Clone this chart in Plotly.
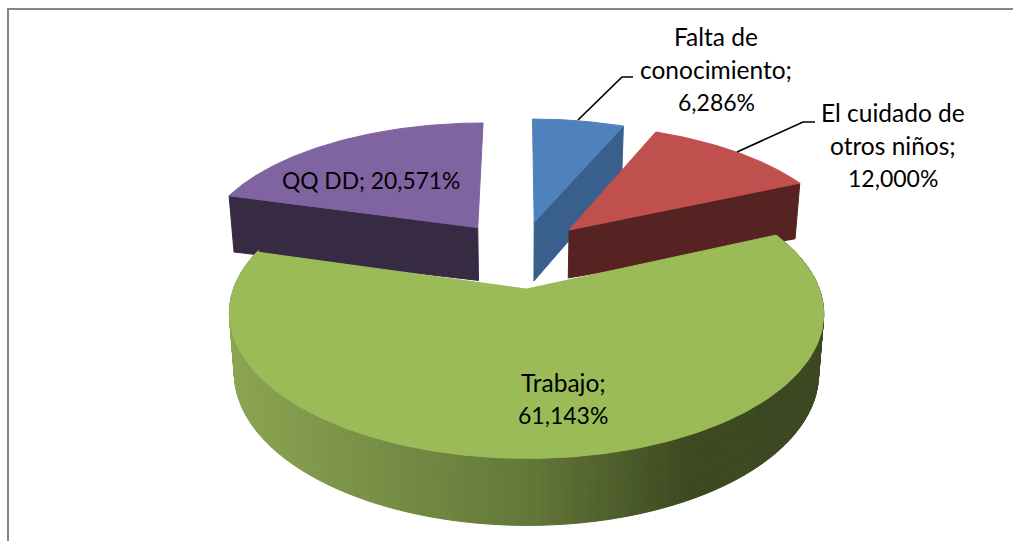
import numpy as np
import plotly.graph_objects as go

categories = ["Falta de conocimiento", "El cuidado de otros niños", "Trabajo", "QQ DD"]
values = [6.286, 12.000, 61.143, 20.571]
top_colors = ["#4f81bd", "#c0504d", "#9bbb59", "#8064a2"]
side_colors = ["#39608c", "#572222", "#64783a", "#372a43"]
explode = [0.24, 0.24, 0.28, 0.24]
nudge_x = [1.5, 3.5, 0.5, -3.0]
h_apex = [57, 46, 54, 51]
h_rim = [0, 10, 0, 5]
label_lines = [["Falta de", "conocimiento;", "6,286%"],
               ["El cuidado de", "otros niños;", "12,000%"],
               ["Trabajo;", "61,143%"],
               ["QQ DD; 20,571%"]]
label_sizes = [[24.5, 24.5, 23], [24.5, 24.5, 23], [24.5, 23], [22.8]]
label_x = [716, 893, 563, 371]
label_y = [36, 112, 382, 180]
leader_x = [[578, 622, 633], [737, 803, 815]]
leader_y = [[120, 77, 77], [152, 122, 122]]
LINE_GAP = 33

CX, CY, A, B, K = 520.0, 251.5, 279.8, 128.5, 0.1606
BOTTOM_SCALE = 0.983


def project(X, Y):
    w = 1 - K * Y
    return CX + A * X / w, CY + B * Y / w


def thick(sy, r, i):
    return h_apex[i] + h_rim[i] * r + 0.0485 * (sy - 190)


def point(theta, r, i, mid):
    m = np.radians(mid)
    X = explode[i] * np.sin(m) + r * np.sin(theta)
    Y = -explode[i] * np.cos(m) - r * np.cos(theta)
    sx, sy = project(X, Y)
    return sx + nudge_x[i], sy


def bottom(sx, sy, r, i):
    return CX + (sx - CX) * BOTTOM_SCALE, sy + thick(sy, r, i)


fracs = np.array(values) / sum(values) * 360
starts = np.concatenate([[0], np.cumsum(fracs)[:-1]])
ends = starts + fracs
mids = (starts + ends) / 2

fig = go.Figure()


def poly(xs, ys, color):
    fig.add_trace(go.Scatter(x=list(xs), y=list(ys), mode="lines", fill="toself",
                             fillcolor=color, hoverinfo="skip", showlegend=False,
                             line=dict(color=color, width=1)))


def top_outline(i):
    th = np.radians(np.linspace(starts[i], ends[i], 200))
    sx, sy = point(th, 1.0, i, mids[i])
    ax, ay = point(0.0, 0.0, i, mids[i])
    return np.r_[ax, sx, ax], np.r_[ay, sy, ay]


def cut_face(i, angle):
    t = np.radians(angle)
    ax, ay = point(t, 0.0, i, mids[i])
    rx, ry = point(t, 1.0, i, mids[i])
    bax, bay = bottom(ax, ay, 0.0, i)
    brx, bry = bottom(rx, ry, 1.0, i)
    poly([ax, rx, brx, bax, ax], [ay, ry, bry, bay, ay], side_colors[i])


def green_color(x):
    stops_x = [228, 526, 690, 823]
    r = np.interp(x, stops_x, [139, 100, 61, 60])
    g = np.interp(x, stops_x, [165, 120, 73, 72])
    b = np.interp(x, stops_x, [82, 57, 33, 34])
    return f"rgb({r:.0f},{g:.0f},{b:.0f})"


for i in [3, 0, 1, 2]:
    if i == 2:
        th = np.radians(np.arange(starts[i], ends[i] + 1, 1.0))
        sx, sy = point(th, 1.0, i, mids[i])
        bx, by = bottom(sx, sy, 1.0, i)
        for j in range(len(th) - 1):
            c = green_color((sx[j] + sx[j + 1]) / 2)
            poly([sx[j], sx[j + 1], bx[j + 1], bx[j], sx[j]],
                 [sy[j], sy[j + 1], by[j + 1], by[j], sy[j]], c)
    else:
        cut_face(i, starts[i] if i == 3 else ends[i])
    tx, ty = top_outline(i)
    poly(tx, ty, top_colors[i])

for lx, ly in zip(leader_x, leader_y):
    fig.add_trace(go.Scatter(x=lx, y=ly, mode="lines",
                             line=dict(color="black", width=1.7), hoverinfo="skip", showlegend=False))

annotations = []
for lines, sizes, lx, ly in zip(label_lines, label_sizes, label_x, label_y):
    for n, (text, fs) in enumerate(zip(lines, sizes)):
        annotations.append(dict(x=lx, y=ly + n * LINE_GAP, text=text, showarrow=False,
                                xref="x", yref="y", xanchor="center", yanchor="middle",
                                font=dict(family="Lato", size=fs, color="black")))

shapes = [
    dict(type="line", x0=8, x1=8, y0=9, y1=541, xref="x", yref="y", line=dict(color="#868686", width=2)),
    dict(type="line", x0=7, x1=1013, y0=9, y1=9, xref="x", yref="y", line=dict(color="#868686", width=2)),
]

fig.update_layout(width=1014, height=541, margin=dict(l=0, r=0, t=0, b=0),
                  paper_bgcolor="white", plot_bgcolor="white", showlegend=False,
                  annotations=annotations, shapes=shapes,
                  xaxis=dict(range=[0, 1014], visible=False, fixedrange=True),
                  yaxis=dict(range=[541, 0], visible=False, fixedrange=True))
fig.write_html("out.html", config={"displayModeBar": False},
               post_script="document.body.style.margin='0';document.body.style.overflow='hidden';")
